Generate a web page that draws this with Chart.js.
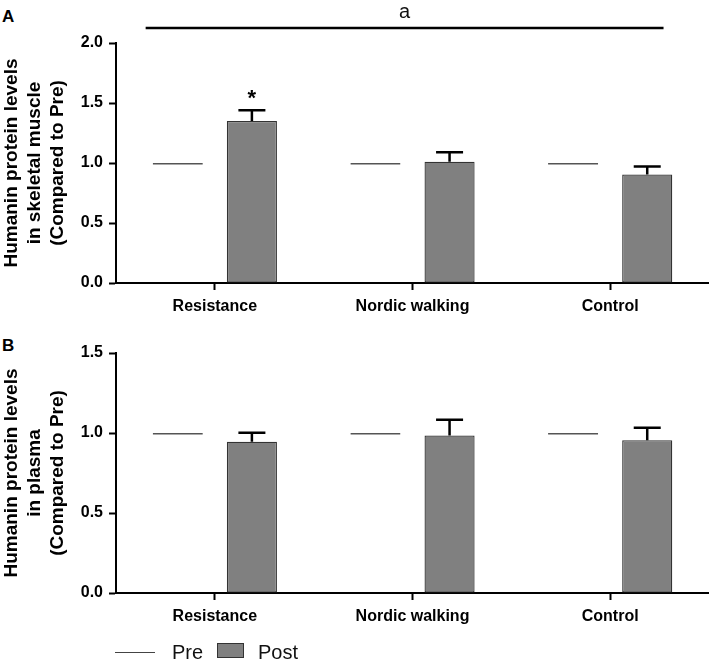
<!DOCTYPE html>
<html>
<head>
<meta charset="utf-8">
<script src="https://cdn.jsdelivr.net/npm/chart.js@4/dist/chart.umd.min.js"></script>
<style>
  html,body{margin:0;padding:0;background:#fff;}
  body{width:709px;height:666px;position:relative;overflow:hidden;font-family:"Liberation Sans",Arial,sans-serif;}
  .cv{position:absolute;left:0;}
  .lbl{position:absolute;font-weight:bold;font-size:17px;color:#000;line-height:1;}
  #legend{position:absolute;left:0;top:640px;height:24px;width:400px;font-size:20px;color:#111;}
  #legend .ln{position:absolute;left:115px;top:12px;width:40px;height:0;border-top:1.5px solid #444;}
  #legend .bx{position:absolute;left:217px;top:3px;width:25px;height:13px;background:#808080;border:1px solid #333;}
  #legend .t{position:absolute;top:0;line-height:24px;}
</style>
</head>
<body>
<div class="lbl" style="left:2px;top:8px;">A</div>
<div class="lbl" style="left:2px;top:337px;">B</div>
<div style="position:absolute;left:0;top:0;width:709px;height:320px;"><canvas id="cA" class="cv"></canvas></div>
<div style="position:absolute;left:0;top:320px;width:709px;height:346px;"><canvas id="cB" class="cv"></canvas></div>
<div id="legend">
  <div class="ln"></div><div class="t" style="left:172px;">Pre</div>
  <div class="bx"></div><div class="t" style="left:258px;">Post</div>
</div>
<script>
// ---- data ----
const categories = ["Resistance", "Nordic walking", "Control"];
const seriesNames = ["Pre", "Post"];
const preA  = [1, 1, 1];
const postA = [1.35, 1.01, 0.905];
const errA  = [0.09, 0.08, 0.065];
const preB  = [1, 1, 1];
const postB = [0.945, 0.985, 0.955];
const errB  = [0.057, 0.098, 0.078];
const yTicksA = [0, 0.5, 1.0, 1.5, 2.0];
const yTicksB = [0, 0.5, 1.0, 1.5];
const yTitleA = ["Humanin protein levels", "in skeletal muscle", "(Compared to Pre)"];
const yTitleB = ["Humanin protein levels", "in plasma", "(Compared to Pre)"];
const sigLabel = "a";
const sigSpan = [-0.35, 2.27];   // category-index span of the bracket line
const starCategory = 0;           // "*" over Resistance Post
// --------------

const FONT = '"Liberation Sans", Arial, sans-serif';

const errorBarPlugin = {
  id: 'errbars',
  afterDatasetsDraw(chart, args, opts) {
    const meta = chart.getDatasetMeta(1);
    const ys = chart.scales.y;
    const ctx = chart.ctx;
    ctx.save();
    ctx.strokeStyle = '#000';
    ctx.lineWidth = 2.5;
    meta.data.forEach((bar, i) => {
      const v = chart.data.datasets[1].data[i];
      const yt = ys.getPixelForValue(v + opts.err[i]);
      ctx.beginPath();
      ctx.moveTo(bar.x, bar.y);
      ctx.lineTo(bar.x, yt);
      ctx.moveTo(bar.x - 13.5, yt);
      ctx.lineTo(bar.x + 13.5, yt);
      ctx.stroke();
    });
    if (opts.sig) {
      const xs = chart.scales.x;
      const x0 = xs.getPixelForValue(sigSpan[0]);
      const x1 = xs.getPixelForValue(sigSpan[1]);
      const yl = chart.chartArea.top - 15;
      ctx.beginPath();
      ctx.moveTo(x0, yl);
      ctx.lineTo(x1, yl);
      ctx.stroke();
      ctx.fillStyle = '#111';
      ctx.font = '20px ' + FONT;
      ctx.textAlign = 'center';
      ctx.textBaseline = 'alphabetic';
      ctx.fillText(sigLabel, (x0 + x1) / 2, yl - 10);
      const bar = meta.data[starCategory];
      const v = chart.data.datasets[1].data[starCategory];
      const yt = ys.getPixelForValue(v + opts.err[starCategory]);
      ctx.font = 'bold 22px ' + FONT;
      ctx.fillStyle = '#000';
      ctx.fillText('*', bar.x, yt - 5);
    }
    ctx.restore();
  }
};

function makeChart(id, pre, post, err, ticks, title, padTop, xH, sig) {
  const ymax = ticks[ticks.length - 1];
  return new Chart(document.getElementById(id), {
    type: 'bar',
    data: {
      labels: categories,
      datasets: [
        { label: seriesNames[0], data: pre, backgroundColor: 'rgba(0,0,0,0)', borderColor: '#555',
          borderWidth: {top: 1.5, right: 0, bottom: 0, left: 0}, borderSkipped: false },
        { label: seriesNames[1], data: post, backgroundColor: '#808080', borderColor: '#333',
          borderWidth: 1.3, borderSkipped: false }
      ]
    },
    options: {
      responsive: true,
      maintainAspectRatio: false,
      animation: false,
      datasets: { bar: { categoryPercentage: 0.75, barPercentage: 0.676 } },
      layout: { padding: { top: padTop, left: 0, right: 0, bottom: 0 } },
      plugins: { legend: { display: false }, tooltip: { enabled: false }, errbars: { err: err, sig: sig } },
      scales: {
        x: {
          offset: true,
          grid: { display: true, offset: false, drawOnChartArea: false, tickLength: 7, tickWidth: 2, tickColor: '#000' },
          border: { display: true, color: '#000', width: 2 },
          ticks: { color: '#000', font: { family: FONT, size: 16, weight: 'bold' }, padding: 7, maxRotation: 0 },
          afterFit(s) { s.height = xH; }
        },
        y: {
          min: 0, max: ymax,
          afterBuildTicks(s) { s.ticks = ticks.map(v => ({ value: v })); },
          grid: { display: true, drawOnChartArea: false, tickLength: 7, tickWidth: 2, tickColor: '#000' },
          border: { display: true, color: '#000', width: 2 },
          ticks: { color: '#000', font: { family: FONT, size: 16, weight: 'bold' }, padding: 6,
                   callback: v => Number(v).toFixed(1) },
          title: { display: true, text: title, color: '#000', padding: { top: 0, bottom: 0 },
                   font: { family: FONT, size: 19, weight: 'bold', lineHeight: 1.21 } },
          afterFit(s) { s.width = 116; }
        }
      }
    },
    plugins: [errorBarPlugin]
  });
}

makeChart('cA', preA, postA, errA, yTicksA, yTitleA, 43, 37, true);
makeChart('cB', preB, postB, errB, yTicksB, yTitleB, 33, 73, false);
</script>
</body>
</html>
